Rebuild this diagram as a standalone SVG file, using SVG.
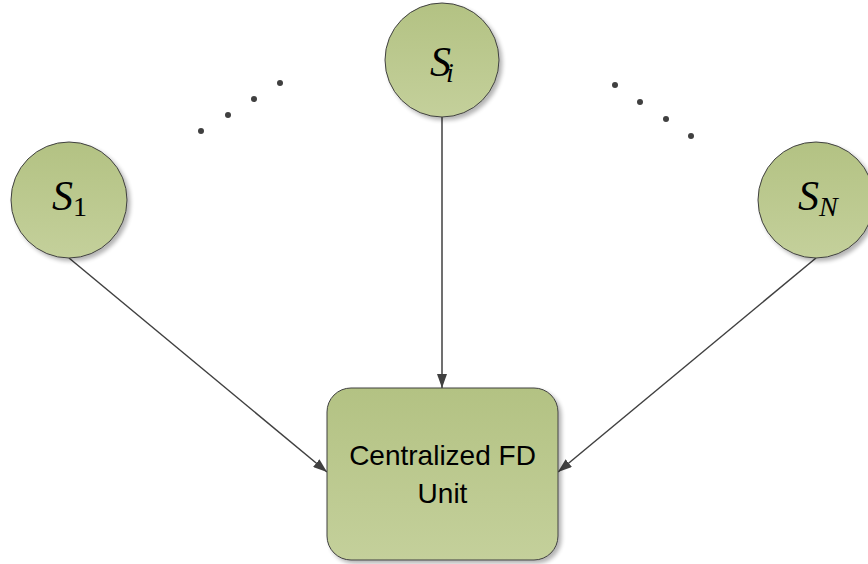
<svg xmlns="http://www.w3.org/2000/svg" width="868" height="564" viewBox="0 0 868 564">
  <defs>
    <linearGradient id="olive" x1="0" y1="0" x2="0" y2="1">
      <stop offset="0" stop-color="#b3c283"/>
      <stop offset="1" stop-color="#c4d09b"/>
    </linearGradient>
    <filter id="shadow" x="-20%" y="-20%" width="140%" height="140%">
      <feGaussianBlur in="SourceAlpha" stdDeviation="2"/>
      <feOffset dx="3" dy="3" result="b"/>
      <feComponentTransfer><feFuncA type="linear" slope="0.3"/></feComponentTransfer>
      <feMerge><feMergeNode/><feMergeNode in="SourceGraphic"/></feMerge>
    </filter>
    <marker id="arrow" viewBox="0 0 14 10" refX="14" refY="5" markerWidth="14" markerHeight="10" markerUnits="userSpaceOnUse" orient="auto">
      <path d="M0,0 L14,5 L0,10 Z" fill="#404040"/>
    </marker>
  </defs>
  <style>
    .shape { fill: url(#olive); stroke: #404040; stroke-width: 1; filter: url(#shadow); }
    .sym { font-family: "Liberation Serif", "Times New Roman", serif; fill: #000; }
    .label { font-family: "Liberation Sans", Arial, sans-serif; font-size: 28px; fill: #000; text-anchor: middle; }
    .edge { stroke: #404040; stroke-width: 1.5; fill: none; marker-end: url(#arrow); }
    .dot { fill: #404040; }
  </style>

  <g id="connectors">
    <line class="edge" x1="69" y1="258" x2="327" y2="472"/>
    <line class="edge" x1="442" y1="117" x2="442" y2="388"/>
    <line class="edge" x1="816" y1="258" x2="558" y2="472"/>
  </g>

  <g id="node-s1">
    <circle class="shape" cx="69" cy="200" r="58"/>
    <text class="sym" x="52" y="210"><tspan font-style="italic" font-size="42">S</tspan><tspan font-size="28" dy="6">1</tspan></text>
  </g>

  <g id="node-si">
    <circle class="shape" cx="442" cy="60" r="57"/>
    <text class="sym" x="430" y="76"><tspan font-style="italic" font-size="42">S</tspan><tspan font-style="italic" font-size="28" dx="-5" dy="6">i</tspan></text>
  </g>

  <g id="node-sn">
    <circle class="shape" cx="816" cy="200" r="58"/>
    <text class="sym" x="798" y="210"><tspan font-style="italic" font-size="42">S</tspan><tspan font-style="italic" font-size="28" dy="6">N</tspan></text>
  </g>

  <g id="node-fd">
    <rect class="shape" x="327" y="388" width="231" height="172" rx="24" ry="24"/>
    <text class="label" x="442.5" y="465">Centralized FD</text>
    <text class="label" x="442.5" y="503">Unit</text>
  </g>

  <g id="ellipsis-left">
    <circle class="dot" cx="201" cy="131" r="3"/>
    <circle class="dot" cx="228" cy="115" r="3"/>
    <circle class="dot" cx="254" cy="99" r="3"/>
    <circle class="dot" cx="280" cy="83" r="3"/>
  </g>
  <g id="ellipsis-right">
    <circle class="dot" cx="615" cy="85" r="3"/>
    <circle class="dot" cx="640" cy="102" r="3"/>
    <circle class="dot" cx="666" cy="119" r="3"/>
    <circle class="dot" cx="691" cy="136" r="3"/>
  </g>
</svg>
